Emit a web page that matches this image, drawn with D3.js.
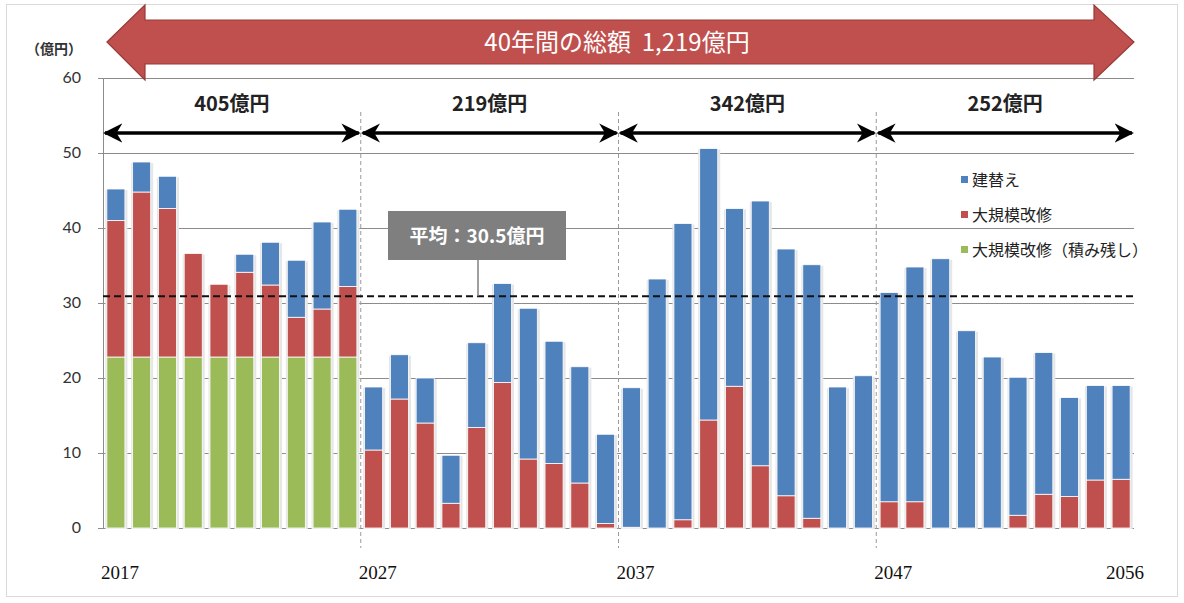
<!DOCTYPE html>
<html>
<head>
<meta charset="utf-8">
<script src="https://cdn.jsdelivr.net/npm/d3@7"></script>
<style>
  body { margin: 0; background: #fff; }
  svg { display: block; font-family: "Noto Sans CJK JP", "Noto Sans", sans-serif; }
</style>
</head>
<body>
<div id="chart"></div>
<script>
// years on the x axis
var years = [2017,2018,2019,2020,2021,2022,2023,2024,2025,2026,
             2027,2028,2029,2030,2031,2032,2033,2034,2035,2036,
             2037,2038,2039,2040,2041,2042,2043,2044,2045,2046,
             2047,2048,2049,2050,2051,2052,2053,2054,2055,2056];

// 大規模改修（積み残し）
var leftover = [22.8,22.8,22.8,22.8,22.8,22.8,22.8,22.8,22.8,22.8,
                0,0,0,0,0,0,0,0,0,0,
                0,0,0,0,0,0,0,0,0,0,
                0,0,0,0,0,0,0,0,0,0];
// 大規模改修
var repair = [18.2,22.0,19.8,13.8,9.7,11.3,9.6,5.3,6.4,9.4,
              10.4,17.2,14.0,3.3,13.4,19.4,9.2,8.6,6.0,0.6,
              0.1,0,1.1,14.4,18.9,8.3,4.3,1.3,0,0,
              3.5,3.5,0,0,0,1.7,4.5,4.2,6.4,6.5];
// 建替え
var rebuild = [4.2,4.0,4.3,0,0,2.4,5.7,7.6,11.6,10.3,
               8.4,5.9,6.0,6.4,11.3,13.2,20.1,16.3,15.5,11.9,
               18.6,33.2,39.5,36.2,23.7,35.3,32.9,33.8,18.8,20.3,
               27.9,31.3,35.9,26.3,22.8,18.4,18.9,13.2,12.6,12.5];

var yTicks = [0,10,20,30,40,50,60];
var periodLabels = ["405億円","219億円","342億円","252億円"];
var yearLabels = [2017,2027,2037,2047,2056];
var seriesNames = ["建替え","大規模改修","大規模改修（積み残し）"];
var avgLine = 30.9;
var avgText = "平均：30.5億円";
var totalText = "40年間の総額  1,219億円";

var colors = {leftover: "#9bbb59", repair: "#c0504d", rebuild: "#4f81bd"};

var W = 1184, H = 603;
var svg = d3.select("#chart").append("svg")
  .attr("width", W).attr("height", H);

// light frame around the picture
svg.append("rect")
  .attr("x", 6.5).attr("y", 4.5).attr("width", 1171).attr("height", 592)
  .attr("fill", "none").attr("stroke", "#d9d9d9");

var x = d3.scaleBand()
  .domain(years)
  .range([103, 1134])
  .paddingInner(0.3)
  .paddingOuter(0.15);

var y = d3.scaleLinear()
  .domain([0, 60])
  .range([528, 78]);

function boundary(i) { return x.range()[0] + i * x.step(); }

// gridlines
svg.append("g")
  .selectAll("line")
  .data(yTicks)
  .enter()
  .append("line")
    .attr("x1", 103).attr("x2", 1134)
    .attr("y1", function(d){ return y(d) + 0.5; })
    .attr("y2", function(d){ return y(d) + 0.5; })
    .attr("stroke", "#8c8c8c")
    .attr("stroke-width", 1);

// left axis line
svg.append("line")
  .attr("x1", 103.5).attr("x2", 103.5)
  .attr("y1", y(60)).attr("y2", y(0))
  .attr("stroke", "#8c8c8c");

// small tick marks
svg.append("g")
  .selectAll("line")
  .data(yTicks)
  .enter()
  .append("line")
    .attr("x1", 98).attr("x2", 103)
    .attr("y1", function(d){ return y(d) + 0.5; })
    .attr("y2", function(d){ return y(d) + 0.5; })
    .attr("stroke", "#8c8c8c");

// y labels
svg.append("g")
  .selectAll("text")
  .data(yTicks)
  .enter()
  .append("text")
    .attr("x", 81)
    .attr("y", function(d){ return y(d) + 5; })
    .attr("text-anchor", "end")
    .style("font-family", "Lato, 'Noto Sans', sans-serif")
    .style("font-size", "16px")
    .style("fill", "#333")
    .text(function(d){ return d; });

svg.append("text")
  .attr("x", 54).attr("y", 54)
  .attr("text-anchor", "middle")
  .style("font-size", "14px")
  .style("font-weight", "bold")
  .style("fill", "#333")
  .text("（億円）");

// stacked bars
var rows = years.map(function(yr, i){
  return {year: yr, leftover: leftover[i], repair: repair[i], rebuild: rebuild[i]};
});
var stack = d3.stack().keys(["leftover", "repair", "rebuild"]);
var layers = stack(rows);

// bar shadows
svg.append("g")
  .selectAll("rect")
  .data(rows)
  .enter()
  .append("rect")
    .attr("x", function(d){ return x(d.year) - 1.5; })
    .attr("y", function(d){ return y(d.leftover + d.repair + d.rebuild) + 1; })
    .attr("width", x.bandwidth() + 4)
    .attr("height", function(d){ return y(0) - y(d.leftover + d.repair + d.rebuild); })
    .attr("fill", "#e6e6e6");

svg.append("g")
  .selectAll("g")
  .data(layers)
  .enter()
  .append("g")
    .attr("fill", function(d){ return colors[d.key]; })
  .selectAll("rect")
  .data(function(d){ return d; })
  .enter()
  .append("rect")
    .filter(function(d){ return d[1] - d[0] > 0; })
    .attr("x", function(d){ return x(d.data.year); })
    .attr("y", function(d){ return y(d[1]); })
    .attr("width", x.bandwidth())
    .attr("height", function(d){ return y(d[0]) - y(d[1]); })
    .attr("stroke", "#fff")
    .attr("stroke-width", 0.8);

// period dividers
svg.append("g")
  .selectAll("line")
  .data([10, 20, 30])
  .enter()
  .append("line")
    .attr("x1", function(d){ return boundary(d); })
    .attr("x2", function(d){ return boundary(d); })
    .attr("y1", 112).attr("y2", 548)
    .attr("stroke", "#9a9a9a")
    .attr("stroke-width", 1)
    .attr("stroke-dasharray", "4,3");

// average dashed line
svg.append("line")
  .attr("x1", 103).attr("x2", 1134)
  .attr("y1", y(avgLine)).attr("y2", y(avgLine))
  .attr("stroke", "#111")
  .attr("stroke-width", 2)
  .attr("stroke-dasharray", "7,4");

// average callout
svg.append("line")
  .attr("x1", 478).attr("x2", 478)
  .attr("y1", 259).attr("y2", y(avgLine))
  .attr("stroke", "#7f7f7f")
  .attr("stroke-width", 1.5);
svg.append("rect")
  .attr("x", 388).attr("y", 211).attr("width", 178).attr("height", 49)
  .attr("fill", "#7f7f7f");
svg.append("text")
  .attr("x", 477).attr("y", 243)
  .attr("text-anchor", "middle")
  .style("font-size", "19px")
  .style("font-weight", "bold")
  .style("fill", "#fff")
  .text(avgText);

// black double arrows for each period
var defs = svg.append("defs");
defs.append("marker")
  .attr("id", "head")
  .attr("viewBox", "0 0 10 10")
  .attr("refX", 9).attr("refY", 5)
  .attr("markerWidth", 5.5).attr("markerHeight", 5.5)
  .attr("orient", "auto-start-reverse")
  .append("path")
    .attr("d", "M0,0 L10,5 L0,10 L3,5 Z")
    .attr("fill", "#000");

svg.append("g")
  .selectAll("line")
  .data([0, 1, 2, 3])
  .enter()
  .append("line")
    .attr("x1", function(d){ return boundary(d * 10) + 2; })
    .attr("x2", function(d){ return boundary(d * 10 + 10) - 2; })
    .attr("y1", 133).attr("y2", 133)
    .attr("stroke", "#000")
    .attr("stroke-width", 3.5)
    .attr("marker-start", "url(#head)")
    .attr("marker-end", "url(#head)");

svg.append("g")
  .selectAll("text")
  .data(periodLabels)
  .enter()
  .append("text")
    .attr("x", function(d, i){ return (boundary(i * 10) + boundary(i * 10 + 10)) / 2; })
    .attr("y", 111)
    .attr("text-anchor", "middle")
    .style("font-size", "20px")
    .style("font-weight", "bold")
    .style("fill", "#222")
    .text(function(d){ return d; });

// big red arrow at top
var ax0 = 107, ax1 = 1134, hb0 = 145, hb1 = 1094, cy = 42;
svg.append("path")
  .attr("d", "M" + ax0 + "," + cy +
             " L" + hb0 + ",5 L" + hb0 + ",20 L" + hb1 + ",20 L" + hb1 + ",5" +
             " L" + ax1 + "," + cy +
             " L" + hb1 + ",80 L" + hb1 + ",64 L" + hb0 + ",64 L" + hb0 + ",80 Z")
  .attr("fill", "#c0504d")
  .attr("stroke", "#9a3a37")
  .attr("stroke-width", 1.2);
svg.append("text")
  .attr("x", 617).attr("y", 51)
  .attr("text-anchor", "middle")
  .style("font-size", "24px")
  .style("fill", "#fff")
  .attr("xml:space", "preserve")
  .text(totalText);

// legend
var legend = svg.append("g")
  .selectAll("g")
  .data(seriesNames)
  .enter()
  .append("g")
    .attr("transform", function(d, i){ return "translate(961," + (180 + i * 35) + ")"; });
legend.append("rect")
  .attr("x", 0).attr("y", -4)
  .attr("width", 7).attr("height", 7)
  .attr("fill", function(d, i){ return [colors.rebuild, colors.repair, colors.leftover][i]; });
legend.append("text")
  .attr("x", 11).attr("y", 6)
  .style("font-size", "16px")
  .style("fill", "#222")
  .text(function(d){ return d; });

// year labels below
svg.append("g")
  .selectAll("text")
  .data(yearLabels)
  .enter()
  .append("text")
    .attr("x", function(d){ return x(d) + x.bandwidth() / 2 + 4; })
    .attr("y", 579)
    .attr("text-anchor", "middle")
    .style("font-family", "'Liberation Serif', 'DejaVu Serif', serif")
    .style("font-size", "19px")
    .style("fill", "#111")
    .text(function(d){ return d; });
</script>
</body>
</html>
